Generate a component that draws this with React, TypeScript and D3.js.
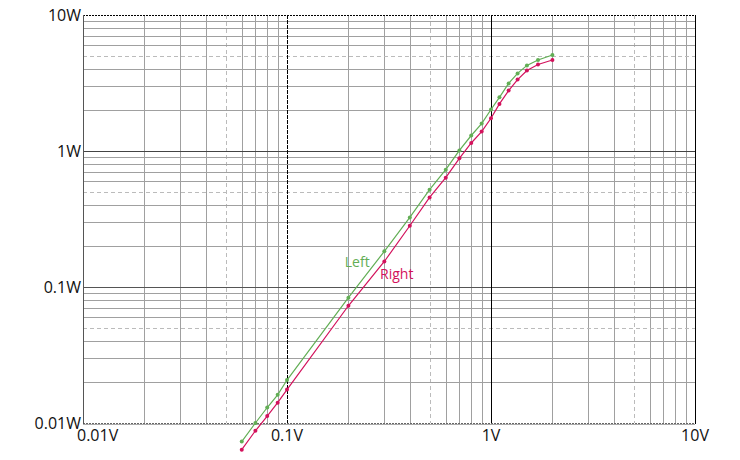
import React from "react";
import * as d3 from "d3";

const voltsLeft = [0.06, 0.07, 0.08, 0.09, 0.1, 0.2, 0.3, 0.4, 0.5, 0.6, 0.7, 0.8, 0.9, 1.0, 1.1, 1.22, 1.35, 1.5, 1.7, 2.0];
const wattsLeft = [0.0073, 0.01, 0.013, 0.0161, 0.0207, 0.0834, 0.183, 0.325, 0.519, 0.729, 1.01, 1.3, 1.59, 2.02, 2.48, 3.14, 3.72, 4.26, 4.67, 5.08];
const voltsRight = [0.06, 0.07, 0.08, 0.09, 0.1, 0.2, 0.3, 0.4, 0.5, 0.6, 0.7, 0.8, 0.9, 1.0, 1.1, 1.22, 1.35, 1.5, 1.7, 2.0];
const wattsRight = [0.00637, 0.00877, 0.01125, 0.0141, 0.0176, 0.0728, 0.154, 0.282, 0.456, 0.637, 0.883, 1.145, 1.39, 1.74, 2.22, 2.78, 3.35, 3.91, 4.33, 4.67];

const xTickValues = [0.01, 0.1, 1, 10];
const xTickLabels = ["0.01V", "0.1V", "1V", "10V"];
const yTickValues = [0.01, 0.1, 1, 10];
const yTickLabels = ["0.01W", "0.1W", "1W", "10W"];

const seriesNames = ["Left", "Right"];
const seriesColors = ["#62ae55", "#d3125c"];
const labelV = [0.192, 0.286];
const labelW = [0.141, 0.115];

const W = 740;
const H = 460;
const X0 = 83, X1 = 695, Y0 = 423, Y1 = 15;
const FONT = "'Open Sans', 'Noto Sans', sans-serif";

export default function App() {
  const x = d3.scaleLog().domain([0.01, 10]).range([X0, X1]);
  const y = d3.scaleLog().domain([0.01, 10]).range([Y0, Y1]);
  const px = (v: number) => Math.round(v) + 0.5;

  const leadOf = (v: number) => Math.round(v / Math.pow(10, Math.floor(Math.log10(v) + 1e-9)));
  const minor = x.ticks().filter((v) => leadOf(v) !== 1);
  const minorY = y.ticks().filter((v) => leadOf(v) !== 1);

  const series = [
    voltsLeft.map((v, i) => [v, wattsLeft[i]] as [number, number]),
    voltsRight.map((v, i) => [v, wattsRight[i]] as [number, number]),
  ];
  const line = d3.line<[number, number]>().x((d) => x(d[0])).y((d) => y(d[1]));

  return (
    <svg width={W} height={H} style={{ position: "absolute", left: 0, top: 0 }}>
      <rect width={W} height={H} fill="#fff" />
      {minor.map((v, i) => {
        const dashed = leadOf(v) === 5;
        return (
          <line key={"mx" + i} x1={px(x(v))} x2={px(x(v))} y1={Y1} y2={Y0}
            stroke={dashed ? "#bbbbbb" : "#a0a0a0"} strokeWidth={1}
            strokeDasharray={dashed ? "4,3" : undefined} />
        );
      })}
      {minorY.map((v, i) => {
        const dashed = leadOf(v) === 5;
        return (
          <line key={"my" + i} y1={px(y(v))} y2={px(y(v))} x1={X0} x2={X1}
            stroke={dashed ? "#bbbbbb" : "#a0a0a0"} strokeWidth={1}
            strokeDasharray={dashed ? "4,3" : undefined} />
        );
      })}
      <line x1={X0} x2={X1} y1={px(y(1))} y2={px(y(1))} stroke="#444" />
      <line x1={X0} x2={X1} y1={px(y(0.1))} y2={px(y(0.1))} stroke="#555" />
      <line x1={px(x(0.1))} x2={px(x(0.1))} y1={Y1} y2={Y0} stroke="#000" strokeDasharray="4,1" />
      <line x1={px(x(1))} x2={px(x(1))} y1={Y1} y2={Y0} stroke="#000" />
      <line x1={X0} x2={X1} y1={px(Y1)} y2={px(Y1)} stroke="#000" strokeDasharray="2,1" />
      <line x1={X0} x2={X1} y1={px(Y0)} y2={px(Y0)} stroke="#666" strokeDasharray="2,1" />
      <line x1={X0} x2={X1} y1={px(Y0) + 1} y2={px(Y0) + 1} stroke="#aaa" />
      <line x1={px(X0)} x2={px(X0)} y1={Y1} y2={Y0 + 1} stroke="#555" />
      <line x1={px(X1)} x2={px(X1)} y1={Y1} y2={Y0 + 1} stroke="#000" />

      {xTickValues.map((v, i) => (
        <text key={"xt" + i} x={i === 0 ? x(v) - 6 : x(v)} y={441}
          textAnchor={i === 0 ? "start" : "middle"} fontFamily={FONT} fontSize={16} fill="#111">
          {xTickLabels[i]}
        </text>
      ))}
      {yTickValues.map((v, i) => (
        <text key={"yt" + i} x={X0 - 2} y={y(v) + 5.5}
          textAnchor="end" fontFamily={FONT} fontSize={16} fill="#111">
          {yTickLabels[i]}
        </text>
      ))}

      {series.map((s, si) => (
        <g key={"s" + si}>
          <path d={line(s) || ""} fill="none" stroke={seriesColors[si]} strokeWidth={1.2} />
          {s.map((d, i) => (
            <circle key={i} cx={x(d[0])} cy={y(d[1])} r={2} fill={seriesColors[si]} />
          ))}
          <text x={x(labelV[si])} y={y(labelW[si])} fontFamily={FONT} fontSize={14} fill={seriesColors[si]}>
            {seriesNames[si]}
          </text>
        </g>
      ))}
    </svg>
  );
}
